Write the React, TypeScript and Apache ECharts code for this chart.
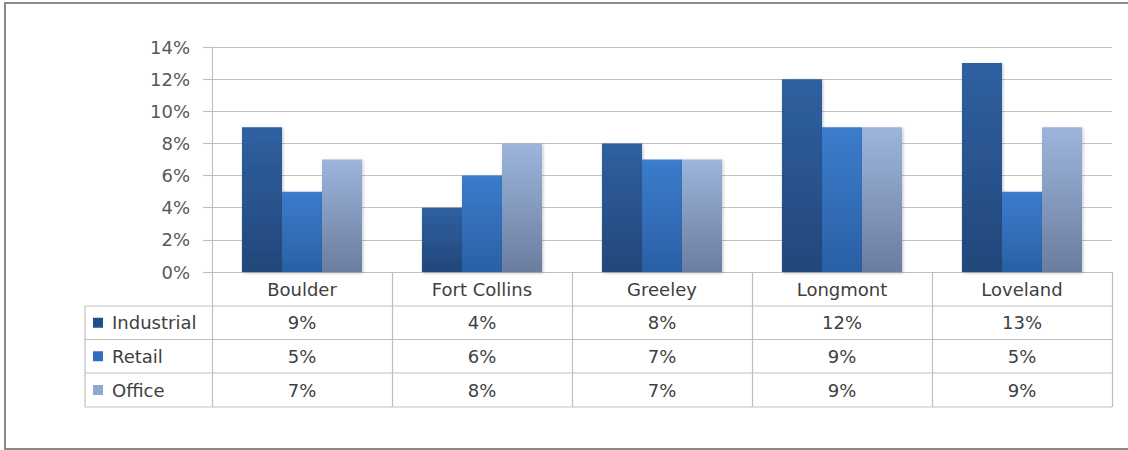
import React, { useEffect, useRef } from "react";
import * as echarts from "echarts";

const categories = ["Boulder", "Fort Collins", "Greeley", "Longmont", "Loveland"];
const seriesNames = ["Industrial", "Retail", "Office"];
const industrial = [9, 4, 8, 12, 13];
const retail = [5, 6, 7, 9, 5];
const office = [7, 8, 7, 9, 9];
const yTicks = [0, 2, 4, 6, 8, 10, 12, 14];

const FONT = "DejaVu Sans";
const FS = 18;
const TEXT = "#595959";
const LINE = "#bfbfbf";

const GRID_LEFT = 212;
const GRID_RIGHT_X = 1112;
const GRID_TOP = 47;
const GRID_BOTTOM_Y = 272;
const TABLE_LEFT = 85;
const ROW_LINES = [306, 339.5, 373, 407];

const colors = [
  ["#2f60a1", "#23477a"],
  ["#3b7ccc", "#2a60a5"],
  ["#9db5dc", "#6b7d9f"],
];
const keyColors = ["#1f4e8c", "#2f6ebd", "#8fa6cf"];

function grad(c: string[]) {
  return new echarts.graphic.LinearGradient(0, 0, 0, 1, [
    { offset: 0, color: c[0] },
    { offset: 1, color: c[1] },
  ]);
}

export default function App() {
  const ref = useRef<HTMLDivElement>(null);
  useEffect(() => {
    if (!ref.current) return;
    const chart = echarts.init(ref.current, null, { renderer: "svg" });
    const data = [industrial, retail, office];
    const graphic: any[] = [];
    graphic.push({
      type: "rect",
      shape: { x: 5, y: 3, width: 1140, height: 446 },
      style: { fill: "none", stroke: "#8a8a8a", lineWidth: 2 },
      z: 0,
    });
    ROW_LINES.forEach((y) => {
      graphic.push({
        type: "line",
        shape: { x1: TABLE_LEFT, y1: y, x2: GRID_RIGHT_X, y2: y },
        style: { stroke: LINE, lineWidth: 1.2 },
      });
    });
    graphic.push({
      type: "line",
      shape: { x1: TABLE_LEFT, y1: ROW_LINES[0], x2: TABLE_LEFT, y2: ROW_LINES[3] },
      style: { stroke: LINE, lineWidth: 1.2 },
    });
    const colW = (GRID_RIGHT_X - GRID_LEFT) / categories.length;
    seriesNames.forEach((name, r) => {
      const yc = (ROW_LINES[r] + ROW_LINES[r + 1]) / 2;
      graphic.push({
        type: "rect",
        shape: { x: 93, y: yc - 5, width: 10, height: 10 },
        style: { fill: keyColors[r] },
      });
      graphic.push({
        type: "text",
        x: 112,
        y: yc,
        style: {
          text: name,
          font: `${FS}px "${FONT}"`,
          fill: "#404040",
          verticalAlign: "middle",
          align: "left",
        },
      });
      data[r].forEach((v, i) => {
        graphic.push({
          type: "text",
          x: GRID_LEFT + colW * (i + 0.5),
          y: yc,
          style: {
            text: v + "%",
            font: `${FS}px "${FONT}"`,
            fill: "#404040",
            verticalAlign: "middle",
            align: "center",
          },
        });
      });
    });

    chart.setOption({
      animation: false,
      backgroundColor: "#fff",
      grid: {
        left: GRID_LEFT,
        right: 1128 - GRID_RIGHT_X,
        top: GRID_TOP,
        bottom: 450 - GRID_BOTTOM_Y,
        containLabel: false,
      },
      xAxis: {
        type: "category",
        data: categories,
        axisLine: { show: true, lineStyle: { color: LINE, width: 1.2 } },
        axisTick: {
          show: true,
          alignWithLabel: false,
          length: ROW_LINES[3] - GRID_BOTTOM_Y,
          lineStyle: { color: LINE, width: 1.2 },
        },
        axisLabel: {
          color: "#404040",
          fontFamily: FONT,
          fontSize: FS,
          margin: 8,
        },
      },
      yAxis: {
        type: "value",
        min: 0,
        max: 14,
        interval: 2,
        axisLine: { show: true, lineStyle: { color: LINE, width: 1.2 } },
        axisTick: { show: true, length: 9, lineStyle: { color: LINE, width: 1.2 } },
        axisLabel: {
          formatter: (v: number) => (yTicks.includes(v) ? v + "%" : ""),
          color: TEXT,
          fontFamily: FONT,
          fontSize: FS,
          margin: 22,
        },
        splitLine: { show: true, lineStyle: { color: LINE, width: 1.2 } },
      },
      series: seriesNames.map((name, i) => ({
        name,
        type: "bar",
        data: data[i],
        barGap: "0%",
        barCategoryGap: "33.3%",
        itemStyle: {
          color: grad(colors[i]),
          shadowColor: "rgba(0,0,0,0.25)",
          shadowBlur: 3,
          shadowOffsetX: 1,
          shadowOffsetY: 1,
        },
      })),
      graphic,
    });
    return () => chart.dispose();
  }, []);
  return (
    <div
      ref={ref}
      style={{ width: 1128, height: 450, position: "absolute", left: 0, top: 0 }}
    />
  );
}
